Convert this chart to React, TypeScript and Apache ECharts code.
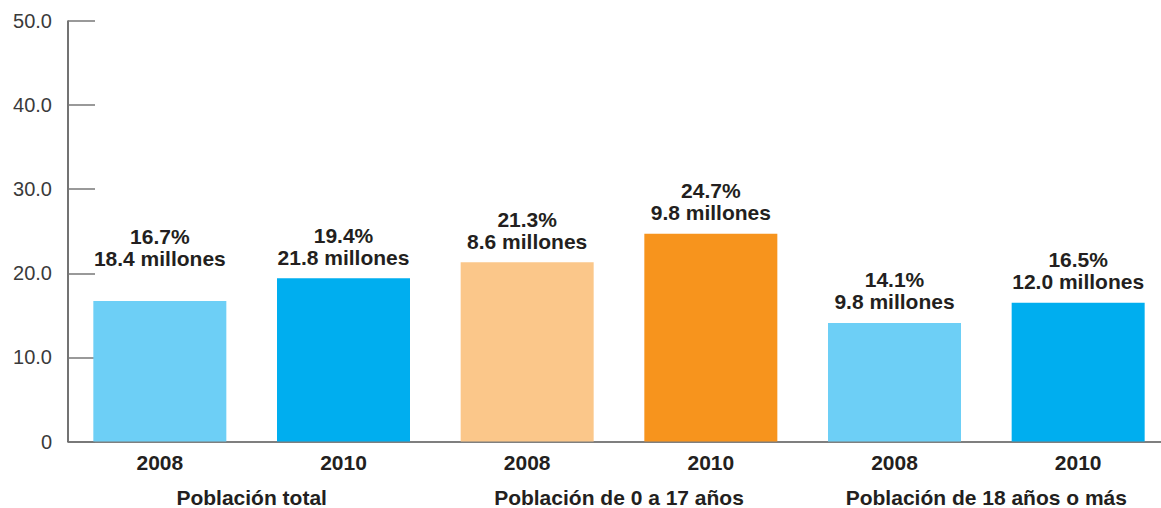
import React, { useEffect, useRef } from "react";
import * as echarts from "echarts";

const years = ["2008", "2010", "2008", "2010", "2008", "2010"];
const groups = ["Población total", "Población de 0 a 17 años", "Población de 18 años o más"];
const percents = [16.7, 19.4, 21.3, 24.7, 14.1, 16.5];
const millions = ["18.4", "21.8", "8.6", "9.8", "9.8", "12.0"];
const barColors = ["#6dcff6", "#00aeef", "#fbc78a", "#f7941d", "#6dcff6", "#00aeef"];
const yTicks = [0, 10, 20, 30, 40, 50];

const FONT = "'Liberation Sans', Arial, sans-serif";
const DARK = "#231f20";

export default function App() {
  const ref = useRef<HTMLDivElement>(null);
  useEffect(() => {
    document.body.style.margin = "0";
    if (!ref.current) return;
    const chart = echarts.init(ref.current, undefined, { renderer: "svg" });
    // first label is lifted to align with its neighbour, as in the source
    const labelDistance = (i: number) => (i === 0 ? 32 : 10);
    chart.setOption({
      animation: false,
      textStyle: { fontFamily: FONT },
      grid: { left: 68, top: 21, width: 1102, bottom: 66.5, containLabel: false },
      xAxis: [
        {
          type: "category",
          data: years,
          position: "bottom",
          axisLine: { lineStyle: { color: "#555", width: 1.5 } },
          axisTick: { inside: true, length: 12, lineStyle: { color: "#666", width: 1.5 } },
          axisLabel: { color: DARK, fontWeight: "bold", fontSize: 21, margin: 10, fontFamily: FONT },
        },
        {
          type: "category",
          data: groups,
          position: "bottom",
          offset: 35,
          axisLine: { show: false },
          axisTick: { show: false },
          axisLabel: { color: DARK, fontWeight: "bold", fontSize: 21, margin: 10, fontFamily: FONT },
        },
      ],
      yAxis: {
        type: "value",
        min: yTicks[0],
        max: yTicks[yTicks.length - 1],
        interval: 10,
        axisLine: { show: true, lineStyle: { color: "#444", width: 1.5 } },
        axisTick: { show: true, inside: true, length: 27, lineStyle: { color: "#777", width: 1.5 } },
        splitLine: { show: false },
        axisLabel: {
          color: "#3a3a3a",
          fontSize: 20,
          margin: 16,
          fontFamily: FONT,
          formatter: (v: number) => (v === 0 ? "0" : v.toFixed(1)),
        },
      },
      series: [
        {
          type: "bar",
          xAxisIndex: 0,
          barWidth: 133,
          data: percents.map((v, i) => ({
            value: v,
            itemStyle: { color: barColors[i] },
            label: { distance: labelDistance(i) },
          })),
          label: {
            show: true,
            position: "top",
            color: DARK,
            fontWeight: "bold",
            fontSize: 21,
            lineHeight: 22,
            fontFamily: FONT,
            formatter: (p: any) => `${percents[p.dataIndex].toFixed(1)}%\n${millions[p.dataIndex]} millones`,
          },
        },
      ],
    });
    return () => chart.dispose();
  }, []);
  return (
    <div style={{ width: 1161, height: 508, overflow: "hidden" }}>
      <div ref={ref} style={{ width: 1180, height: 508 }} />
    </div>
  );
}
